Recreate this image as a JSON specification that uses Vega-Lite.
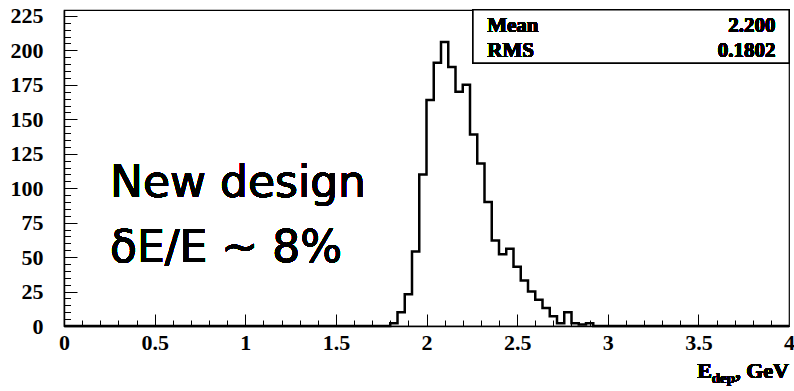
{
  "$schema": "https://vega.github.io/schema/vega-lite/v6.json",
  "width": 725,
  "height": 316,
  "autosize": "none",
  "padding": {"left": 64, "top": 10, "right": 5, "bottom": 65},
  "background": "white",
  "config": {
    "view": {"stroke": "black", "strokeWidth": 1.2, "fill": null},
    "axis": {"grid": false, "zindex": 1, "domainColor": "black", "tickColor": "black", "tickWidth": 1, "labelColor": "black", "labelFont": "Liberation Serif", "labelFontWeight": "bold"}
  },
  "data": {"values": [
    {"x": 0, "n": 0},
    {"x": 1.76, "n": 0},
    {"x": 1.80, "n": 2},
    {"x": 1.84, "n": 10},
    {"x": 1.88, "n": 23},
    {"x": 1.92, "n": 54},
    {"x": 1.96, "n": 110},
    {"x": 2.00, "n": 164},
    {"x": 2.04, "n": 191},
    {"x": 2.08, "n": 206},
    {"x": 2.12, "n": 188},
    {"x": 2.16, "n": 170},
    {"x": 2.20, "n": 175},
    {"x": 2.24, "n": 139},
    {"x": 2.28, "n": 118},
    {"x": 2.32, "n": 90},
    {"x": 2.36, "n": 62},
    {"x": 2.40, "n": 52},
    {"x": 2.44, "n": 56},
    {"x": 2.48, "n": 43},
    {"x": 2.52, "n": 33},
    {"x": 2.56, "n": 25},
    {"x": 2.60, "n": 19},
    {"x": 2.64, "n": 13},
    {"x": 2.68, "n": 7},
    {"x": 2.72, "n": 2},
    {"x": 2.76, "n": 10},
    {"x": 2.80, "n": 2},
    {"x": 2.84, "n": 1},
    {"x": 2.88, "n": 2},
    {"x": 2.92, "n": 0},
    {"x": 4.0, "n": 0}
  ]},
  "layer": [
    {
      "mark": {"type": "line", "interpolate": "step-after", "color": "black", "strokeWidth": 2.5},
      "encoding": {
        "x": {"field": "x", "type": "quantitative", "scale": {"domain": [0, 4], "nice": false, "zero": false},
              "axis": {"orient": "bottom", "values": [0, 0.5, 1, 1.5, 2, 2.5, 3, 3.5, 4], "format": "~g", "title": null, "ticks": false, "tickSize": 0, "labelFontSize": 22, "labelPadding": 6, "domainWidth": 1.5, "labelFlush": false, "labelOverlap": false}},
        "y": {"field": "n", "type": "quantitative", "scale": {"domain": [0, 229.3], "nice": false},
              "axis": {"orient": "left", "values": [0, 25, 50, 75, 100, 125, 150, 175, 200, 225], "format": "d", "title": null, "ticks": false, "tickSize": 0, "labelFontSize": 22, "labelPadding": 21, "domainWidth": 1.5, "labelFlush": false, "labelOverlap": false}}
      }
    },
    {
      "mark": {"type": "line", "opacity": 0},
      "encoding": {
        "x": {"field": "x", "type": "quantitative",
              "axis": {"orient": "bottom", "offset": -12, "values": [0.5, 1, 1.5, 2, 2.5, 3, 3.5], "labels": false, "domain": false, "title": null, "tickSize": 12}},
        "y": {"field": "n", "type": "quantitative",
              "axis": {"orient": "left", "offset": -13, "values": [25, 50, 75, 100, 125, 150, 175, 200, 225], "labels": false, "domain": false, "title": null, "tickSize": 13}}
      }
    },
    {
      "mark": {"type": "line", "opacity": 0},
      "encoding": {
        "x": {"field": "x", "type": "quantitative",
              "axis": {"orient": "bottom", "offset": -6, "values": [0.1,0.2,0.3,0.4,0.6,0.7,0.8,0.9,1.1,1.2,1.3,1.4,1.6,1.7,1.8,1.9,2.1,2.2,2.3,2.4,2.6,2.7,2.8,2.9,3.1,3.2,3.3,3.4,3.6,3.7,3.8,3.9], "labels": false, "domain": false, "title": null, "tickSize": 6}},
        "y": {"field": "n", "type": "quantitative",
              "axis": {"orient": "left", "offset": -6.5, "values": [5,10,15,20,30,35,40,45,55,60,65,70,80,85,90,95,105,110,115,120,130,135,140,145,155,160,165,170,180,185,190,195,205,210,215,220], "labels": false, "domain": false, "title": null, "tickSize": 6.5}}
      }
    },
    {
      "mark": {"type": "rect", "fill": "white", "stroke": "black", "strokeWidth": 1.2},
      "encoding": {
        "x": {"datum": 2.257, "type": "quantitative", "axis": null},
        "x2": {"datum": 4},
        "y": {"datum": 190.9, "type": "quantitative", "axis": null},
        "y2": {"datum": 229.3}
      }
    },
    {
      "mark": {"type": "text", "text": "Mean", "align": "left", "baseline": "alphabetic", "font": "Liberation Serif", "fontWeight": "bold", "fontSize": 21, "color": "black"},
      "encoding": {"x": {"datum": 2.335, "type": "quantitative", "axis": null}, "y": {"datum": 213.6, "type": "quantitative", "axis": null}}
    },
    {
      "mark": {"type": "text", "text": "2.200", "align": "right", "baseline": "alphabetic", "font": "Liberation Serif", "fontWeight": "bold", "fontSize": 21, "color": "black"},
      "encoding": {"x": {"datum": 3.926, "type": "quantitative", "axis": null}, "y": {"datum": 213.6, "type": "quantitative", "axis": null}}
    },
    {
      "mark": {"type": "text", "text": "RMS", "align": "left", "baseline": "alphabetic", "font": "Liberation Serif", "fontWeight": "bold", "fontSize": 21, "color": "black"},
      "encoding": {"x": {"datum": 2.335, "type": "quantitative", "axis": null}, "y": {"datum": 195, "type": "quantitative", "axis": null}}
    },
    {
      "mark": {"type": "text", "text": "0.1802", "align": "right", "baseline": "alphabetic", "font": "Liberation Serif", "fontWeight": "bold", "fontSize": 21, "color": "black"},
      "encoding": {"x": {"datum": 3.926, "type": "quantitative", "axis": null}, "y": {"datum": 195, "type": "quantitative", "axis": null}}
    },
    {
      "mark": {"type": "text", "text": "New design", "align": "left", "baseline": "alphabetic", "font": "DejaVu Sans", "fontSize": 44, "color": "black"},
      "encoding": {"x": {"datum": 0.254, "type": "quantitative", "axis": null}, "y": {"datum": 93.6, "type": "quantitative", "axis": null}}
    },
    {
      "mark": {"type": "text", "text": "δE/E ~ 8%", "align": "left", "baseline": "alphabetic", "font": "DejaVu Sans", "fontSize": 44, "color": "black"},
      "encoding": {"x": {"datum": 0.254, "type": "quantitative", "axis": null}, "y": {"datum": 46.4, "type": "quantitative", "axis": null}}
    },
    {
      "mark": {"type": "text", "text": ", GeV", "align": "right", "baseline": "alphabetic", "font": "Liberation Serif", "fontWeight": "bold", "fontSize": 22, "color": "black", "dy": 52},
      "encoding": {"x": {"datum": 4, "type": "quantitative", "axis": null}, "y": {"datum": 0, "type": "quantitative", "axis": null}}
    },
    {
      "mark": {"type": "text", "text": "dep", "align": "right", "baseline": "alphabetic", "font": "Liberation Serif", "fontWeight": "bold", "fontSize": 15, "color": "black", "dx": -54, "dy": 57},
      "encoding": {"x": {"datum": 4, "type": "quantitative", "axis": null}, "y": {"datum": 0, "type": "quantitative", "axis": null}}
    },
    {
      "mark": {"type": "text", "text": "E", "align": "right", "baseline": "alphabetic", "font": "Liberation Serif", "fontWeight": "bold", "fontSize": 22, "color": "black", "dx": -77, "dy": 52},
      "encoding": {"x": {"datum": 4, "type": "quantitative", "axis": null}, "y": {"datum": 0, "type": "quantitative", "axis": null}}
    }
  ],
  "resolve": {"axis": {"x": "independent", "y": "independent"}}
}
